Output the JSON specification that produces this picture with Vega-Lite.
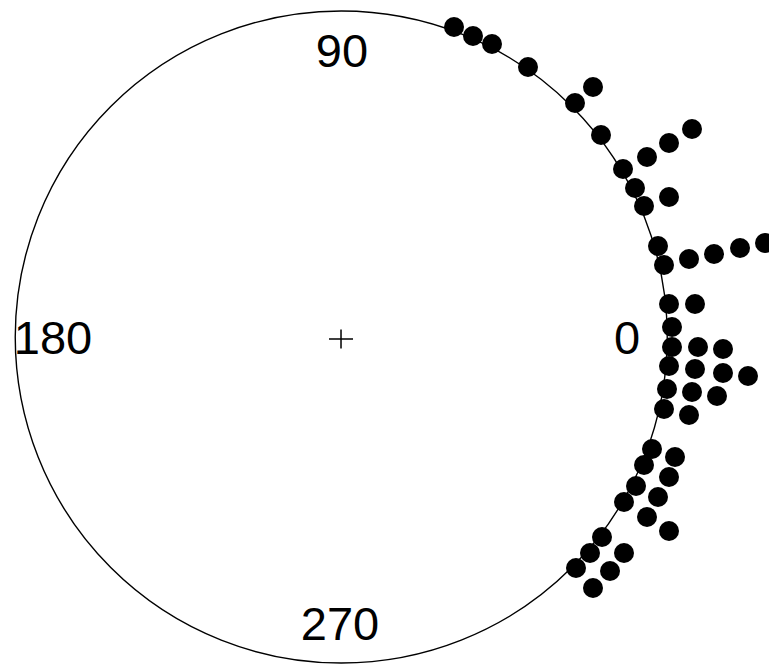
{
  "$schema": "https://vega.github.io/schema/vega-lite/v6.json",
  "width": 769,
  "height": 666,
  "autosize": {"type": "none"},
  "padding": 0,
  "background": "white",
  "config": {"view": {"stroke": null}},
  "datasets": {
    "dots": [
      {"x": 0.3462, "y": 0.9585}, {"x": 0.4046, "y": 0.9308}, {"x": 0.4631, "y": 0.9062}, {"x": 0.5738, "y": 0.8354},
      {"x": 0.7738, "y": 0.7738}, {"x": 0.7185, "y": 0.7246}, {"x": 0.7985, "y": 0.6262},
      {"x": 1.0785, "y": 0.6446}, {"x": 1.0077, "y": 0.6015}, {"x": 0.9400, "y": 0.5585}, {"x": 0.8662, "y": 0.5215},
      {"x": 0.9031, "y": 0.4631}, {"x": 1.0077, "y": 0.4354}, {"x": 0.9308, "y": 0.4077},
      {"x": 0.9738, "y": 0.2846}, {"x": 0.9923, "y": 0.2262}, {"x": 1.0692, "y": 0.2446}, {"x": 1.1462, "y": 0.2600},
      {"x": 1.2262, "y": 0.2785}, {"x": 1.3031, "y": 0.2938},
      {"x": 1.0077, "y": 0.1062}, {"x": 1.0877, "y": 0.1062}, {"x": 1.0169, "y": 0.0354},
      {"x": 1.0169, "y": -0.0262}, {"x": 1.0969, "y": -0.0262}, {"x": 1.1738, "y": -0.0323},
      {"x": 1.0077, "y": -0.0846}, {"x": 1.0877, "y": -0.0938}, {"x": 1.1738, "y": -0.1062}, {"x": 1.2508, "y": -0.1154},
      {"x": 1.0015, "y": -0.1554}, {"x": 1.0785, "y": -0.1646}, {"x": 1.1554, "y": -0.1769},
      {"x": 0.9923, "y": -0.2169}, {"x": 1.0692, "y": -0.2354},
      {"x": 0.9554, "y": -0.3400}, {"x": 1.0262, "y": -0.3646}, {"x": 0.9308, "y": -0.3892}, {"x": 1.0077, "y": -0.4262},
      {"x": 0.9062, "y": -0.4538}, {"x": 0.9738, "y": -0.4877}, {"x": 0.8692, "y": -0.5031}, {"x": 0.9400, "y": -0.5492},
      {"x": 1.0077, "y": -0.5923}, {"x": 0.8015, "y": -0.6108}, {"x": 0.7646, "y": -0.6600}, {"x": 0.8692, "y": -0.6600},
      {"x": 0.7215, "y": -0.7062}, {"x": 0.8262, "y": -0.7154}, {"x": 0.7738, "y": -0.7677}
    ],
    "labels": [
      {"label": "90", "x": 0.0015, "y": 0.8785},
      {"label": "0", "x": 0.8785, "y": -0.0046},
      {"label": "180", "x": -0.8877, "y": -0.0046},
      {"label": "270", "x": -0.0046, "y": -0.8846}
    ],
    "ring": [{"x": -0.0008, "y": 0.0046}],
    "centre": [{"x": -0.0015, "y": -0.0015}]
  },
  "layer": [
    {
      "data": {"name": "ring"},
      "mark": {"type": "point", "shape": "circle", "filled": false, "size": 425104, "stroke": "black", "strokeWidth": 1.4, "opacity": 1},
      "encoding": {
        "x": {"field": "x", "type": "quantitative", "scale": {"domain": [-1.05077, 1.31538], "nice": false, "zero": false}, "axis": null},
        "y": {"field": "y", "type": "quantitative", "scale": {"domain": [-1.00769, 1.04154], "nice": false, "zero": false}, "axis": null}
      }
    },
    {
      "data": {"name": "centre"},
      "mark": {"type": "point", "shape": "M-1.2,0H1.2M0,-0.95V0.95", "filled": false, "size": 400, "stroke": "black", "strokeWidth": 1.5, "opacity": 1},
      "encoding": {
        "x": {"field": "x", "type": "quantitative"},
        "y": {"field": "y", "type": "quantitative"}
      }
    },
    {
      "data": {"name": "dots"},
      "mark": {"type": "point", "shape": "circle", "filled": true, "size": 400, "color": "black", "opacity": 1, "strokeWidth": 0},
      "encoding": {
        "x": {"field": "x", "type": "quantitative"},
        "y": {"field": "y", "type": "quantitative"}
      }
    },
    {
      "data": {"name": "labels"},
      "mark": {"type": "text", "font": "Liberation Sans", "fontSize": 47, "align": "center", "baseline": "middle", "color": "black"},
      "encoding": {
        "x": {"field": "x", "type": "quantitative"},
        "y": {"field": "y", "type": "quantitative"},
        "text": {"field": "label"}
      }
    }
  ]
}
